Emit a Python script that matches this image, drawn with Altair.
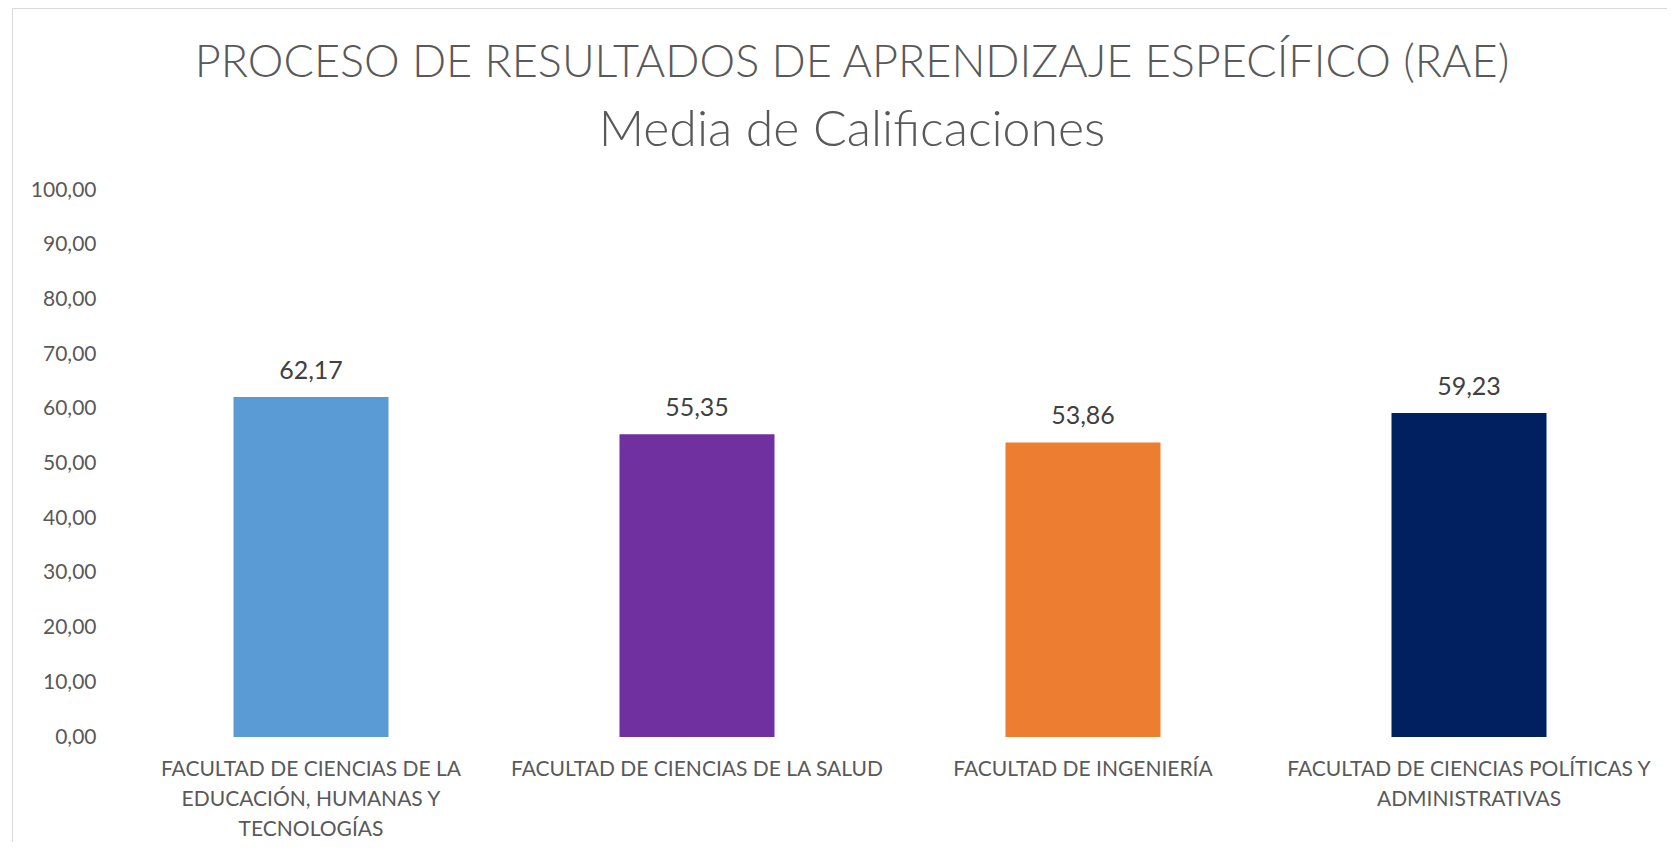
import json
import altair as alt
import pandas as pd

# ---- data ----
categories = [
    "FACULTAD DE CIENCIAS DE LA EDUCACIÓN, HUMANAS Y TECNOLOGÍAS",
    "FACULTAD DE CIENCIAS DE LA SALUD",
    "FACULTAD DE INGENIERÍA",
    "FACULTAD DE CIENCIAS POLÍTICAS Y ADMINISTRATIVAS",
]
label_lines = [
    ["FACULTAD DE CIENCIAS DE LA", "EDUCACIÓN, HUMANAS Y", "TECNOLOGÍAS"],
    ["FACULTAD DE CIENCIAS DE LA SALUD"],
    ["FACULTAD DE INGENIERÍA"],
    ["FACULTAD DE CIENCIAS POLÍTICAS Y", "ADMINISTRATIVAS"],
]
values = [62.17, 55.35, 53.86, 59.23]
colors = ["#5B9BD5", "#7030A0", "#ED7D31", "#002060"]
y_ticks = [0, 10, 20, 30, 40, 50, 60, 70, 80, 90, 100]
title_text = "PROCESO DE RESULTADOS DE APRENDIZAJE ESPECÍFICO (RAE)"
subtitle_text = "Media de Calificaciones"

df = pd.DataFrame({
    "facultad": categories,
    "media": values,
    "etiqueta": [f"{v:.2f}".replace(".", ",") for v in values],
})

FONT = "Lato"
label_map = json.dumps(dict(zip(categories, label_lines)), ensure_ascii=False)

base = alt.Chart(df).encode(
    x=alt.X(
        "facultad:N",
        sort=categories,
        scale=alt.Scale(paddingInner=0.5984, paddingOuter=0.2992),
        axis=alt.Axis(
            title=None, labelAngle=0, labelExpr=label_map + "[datum.label]",
            labelFont=FONT, labelFontSize=21, labelColor="#595959",
            labelPadding=21, labelLineHeight=30, labelLimit=1000,
            labelOverlap=False, domain=False, ticks=False, tickSize=0,
        ),
    ),
    y=alt.Y(
        "media:Q",
        scale=alt.Scale(domain=[0, 100], nice=False),
        axis=alt.Axis(
            title=None, values=y_ticks, grid=False, domain=False, ticks=False,
            tickSize=0, labelExpr="replace(format(datum.value, '.2f'), '.', ',')",
            labelFont=FONT, labelFontSize=21, labelColor="#595959", labelPadding=22,
        ),
    ),
)

bars = base.mark_bar().encode(
    color=alt.Color("facultad:N", scale=alt.Scale(domain=categories, range=colors), legend=None)
)
texts = base.mark_text(
    dy=-18, baseline="alphabetic", font=FONT, fontSize=25, color="#404040"
).encode(text="etiqueta:N")

frame_df = pd.DataFrame({"k": [0]})
left_border = alt.Chart(frame_df).mark_rule(color="#d9d9d9", strokeWidth=1).encode(
    x=alt.value(-105.5), y=alt.value(-181.5), y2=alt.value(700)
)
top_border = alt.Chart(frame_df).mark_rule(color="#d9d9d9", strokeWidth=1).encode(
    x=alt.value(-105.5), x2=alt.value(1600), y=alt.value(-181.5)
)

chart = alt.layer(left_border, top_border, bars, texts).properties(
    width=1544,
    height=547,
    title=alt.TitleParams(
        text=title_text, subtitle=subtitle_text,
        font=FONT, fontSize=45, fontWeight=300, color="#595959",
        subtitleFont=FONT, subtitleFontSize=50, subtitleFontWeight=300,
        subtitleColor="#595959", subtitlePadding=20,
        anchor="middle", frame="group", offset=-147.5, dx=-38,
    ),
    autosize=alt.AutoSizeParams(type="none"),
    padding={"left": 110, "top": 182, "right": 5, "bottom": 105},
).configure(background="white").configure_view(strokeWidth=0, stroke="transparent")

chart.save("out.html", embed_options={"renderer": "svg", "actions": False})
